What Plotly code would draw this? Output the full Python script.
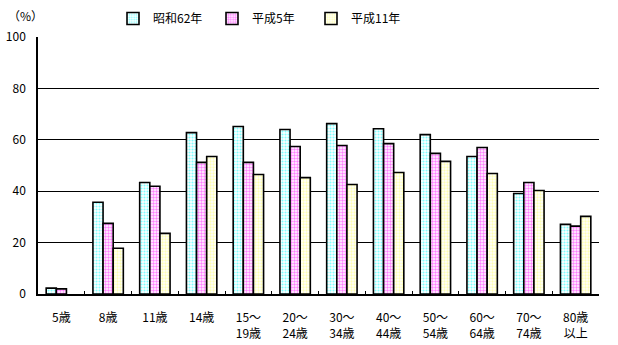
import plotly.graph_objects as go

categories = ["5歳", "8歳", "11歳", "14歳", "15～<br>19歳", "20～<br>24歳", "30～<br>34歳",
              "40～<br>44歳", "50～<br>54歳", "60～<br>64歳", "70～<br>74歳", "80歳<br>以上"]
series_names = ["昭和62年", "平成5年", "平成11年"]
s62 = [2.3, 35.7, 43.4, 62.8, 65.2, 64.0, 66.3, 64.3, 62.0, 53.5, 39.1, 27.1]
h5 = [2.0, 27.5, 41.9, 51.2, 51.2, 57.4, 57.8, 58.5, 54.7, 57.0, 43.4, 26.4]
h11 = [None, 17.8, 23.6, 53.5, 46.5, 45.3, 42.6, 47.3, 51.6, 46.9, 40.3, 30.2]
colors = ["#00FFFF", "#FF00FF", "#FFFF66"]
solidities = [0.4, 0.5, 0.45]

FONT = "Noto Sans CJK JP"
fig = go.Figure()
for name, vals, col, sol in zip(series_names, [s62, h5, h11], colors, solidities):
    fig.add_trace(go.Bar(
        x=categories, y=vals, name=name,
        marker=dict(color="white", line=dict(color="black", width=1.6),
                    pattern=dict(shape=".", fgcolor=col, bgcolor="white", size=3, solidity=sol)),
    ))
# empty helper trace so the grid-only overlay axis is rendered
fig.add_trace(go.Scatter(x=[], y=[], yaxis="y2", showlegend=False, hoverinfo="skip"))

fig.update_layout(
    width=618, height=345,
    margin=dict(l=38, r=19, t=37, b=51, autoexpand=False),
    paper_bgcolor="white", plot_bgcolor="white",
    font=dict(family=FONT, size=12, color="black"),
    barmode="group", bargap=0.35, bargroupgap=0,
    showlegend=True,
    legend=dict(orientation="h", xref="container", yref="container",
                x=113/618, y=1 - 4/345, xanchor="left", yanchor="top",
                entrywidth=54, entrywidthmode="pixels",
                font=dict(size=12), bgcolor="rgba(0,0,0,0)", itemclick=False),
    xaxis=dict(showline=True, linecolor="black", linewidth=1.5, ticks="inside", ticklen=3,
               tickcolor="black", tickson="boundaries", showgrid=False,
               ticklabelstandoff=12, tickfont=dict(size=12)),
    yaxis=dict(range=[0, 100], tickvals=[0, 20, 40, 60, 80, 100], showline=True,
               linecolor="black", linewidth=1.5, ticks="inside", ticklen=4, tickcolor="black",
               showgrid=False, zeroline=False, ticklabelstandoff=8, tickfont=dict(size=12)),
    yaxis2=dict(range=[0, 100], overlaying="y", tickvals=[20, 40, 60, 80], showgrid=True,
                gridcolor="black", gridwidth=1.2, showticklabels=False, ticks="",
                showline=False, zeroline=False),
    annotations=[dict(text="（%）", xref="paper", yref="paper", x=-0.023, y=(294 - 15) / 257,
                      xanchor="center", yanchor="middle", showarrow=False, font=dict(size=12))],
)

fig.write_html("out.html")
